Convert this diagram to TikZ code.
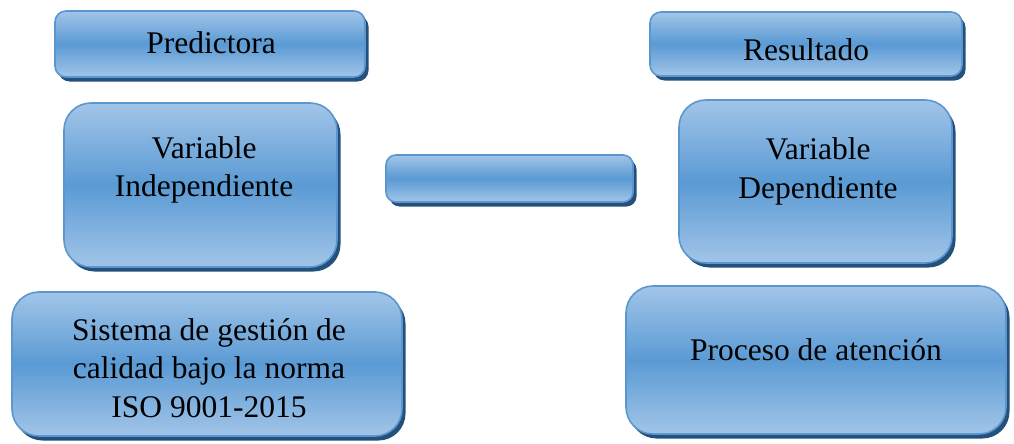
\documentclass[tikz,border=0pt]{standalone}
\usepackage{fontspec}
\setmainfont{Liberation Serif}
\usetikzlibrary{shadows}
\definecolor{boxtop}{HTML}{A2C5E8}
\definecolor{boxmid}{HTML}{5A9AD4}
\definecolor{boxedge}{HTML}{5B96CF}
\definecolor{boxshadow}{HTML}{24507C}
\tikzset{
  gbox/.style={rounded corners=#1, draw=boxedge, line width=1.6pt,
    top color=boxtop, bottom color=boxtop, middle color=boxmid,
    drop shadow={shadow xshift=3.5pt, shadow yshift=-4.5pt, fill=boxshadow, opacity=1},
    inner sep=0pt, outer sep=0pt},
  lbl/.style={font=\fontsize{31.5}{38.5}\selectfont, text=black, align=center, inner sep=0pt}
}
\begin{document}
\begin{tikzpicture}[x=1pt,y=-1pt]
\useasboundingbox (0,0) rectangle (1014,444);
% boxes
\node[gbox=11pt, minimum width=310pt, minimum height=66pt] (pred) at (210,44) {};
\node[gbox=11pt, minimum width=312pt, minimum height=64pt] (res) at (806,44) {};
\node[gbox=27pt, minimum width=273pt, minimum height=164pt] (vi) at (200.5,185) {};
\node[gbox=10pt, minimum width=247pt, minimum height=47pt] (mid) at (509.5,178.5) {};
\node[gbox=27pt, minimum width=273pt, minimum height=163pt] (vd) at (815.5,181.5) {};
\node[gbox=27pt, minimum width=390pt, minimum height=144pt] (sis) at (207,364) {};
\node[gbox=27pt, minimum width=380pt, minimum height=148pt] (pro) at (816,360) {};
% texts
\node[lbl, anchor=base] (tpred) at (211,54) {Predictora};
\node[lbl, anchor=base] (tres) at (806,61) {Resultado};
\node[lbl] (tvi) at (204,170) {Variable\\Independiente};
\node[lbl] (tvd) at (818,171.5) {Variable\\Dependiente};
\node[lbl] (tsis) at (209,368) {Sistema de gestión de\\calidad bajo la norma\\ISO 9001-2015};
\node[lbl, anchor=base] (tpro) at (816,360) {Proceso de atención};
\end{tikzpicture}
\end{document}
